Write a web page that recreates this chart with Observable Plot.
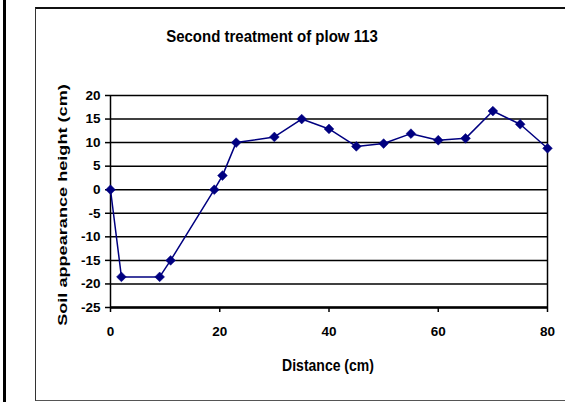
<!DOCTYPE html>
<html><head><meta charset="utf-8">
<script src="https://cdn.jsdelivr.net/npm/d3@7"></script>
<script src="https://cdn.jsdelivr.net/npm/@observablehq/plot@0.6"></script>
<style>
body{margin:0;background:#fff;}
#wrap{position:relative;width:565px;height:402px;overflow:hidden;font-family:"Liberation Sans",Arial,sans-serif;font-weight:bold;color:#000;background:#fff;}
#outer{position:absolute;left:3px;top:0;width:3px;height:402px;background:#000;}
#inner{position:absolute;left:35px;top:7px;width:600px;height:391px;border-left:1.5px solid #333;border-top:2px solid #111;border-bottom:1.5px solid #555;}
#chart{position:absolute;left:0;top:0;}
#chart svg text{font-size:13.5px !important;font-weight:bold;}
.t{position:absolute;white-space:nowrap;line-height:1;}
#title{left:272px;top:28px;font-size:15px;transform:translateX(-50%) scaleY(1.15);}
#xtitle{left:328px;top:358px;font-size:14px;transform:translateX(-50%) scaleY(1.15);}
#ytitle{left:63px;top:205px;font-size:12.5px;transform:translate(-50%,-50%) rotate(-90deg) scaleX(1.45);}
</style>
</head><body>
<div id="wrap">
  <div id="outer"></div>
  <div id="inner"></div>
  <div id="chart"></div>
  <div class="t" id="title"></div>
  <div class="t" id="xtitle"></div>
  <div class="t" id="ytitle"></div>
</div>
<script>
const titleText = "Second treatment of plow 113";
const xLabel = "Distance (cm)";
const yLabel = "Soil appearance height (cm)";
const distance = [0, 2, 9, 11, 19, 20.5, 23, 30, 35, 40, 45, 50, 55, 60, 65, 70, 75, 80];
const height = [0, -18.5, -18.5, -15, 0, 3, 10, 11.2, 15, 12.9, 9.2, 9.8, 11.9, 10.5, 10.9, 16.7, 13.9, 8.8];
const xTicks = [0, 20, 40, 60, 80];
const yTicks = [20, 15, 10, 5, 0, -5, -10, -15, -20, -25];

const data = distance.map((d, i) => ({x: d, y: height[i]}));

document.getElementById("title").textContent = titleText;
document.getElementById("xtitle").textContent = xLabel;
document.getElementById("ytitle").textContent = yLabel;

const chart = Plot.plot({
  width: 565,
  height: 402,
  marginLeft: 110,
  marginRight: 18,
  marginTop: 95,
  marginBottom: 95,
  style: {background: "transparent", fontFamily: "'Liberation Sans', Arial, sans-serif", fontWeight: "bold", fontSize: "13.5px", color: "#000"},
  x: {domain: [0, 80]},
  y: {domain: [-25, 20]},
  marks: [
    Plot.ruleY(yTicks, {stroke: "#000", strokeWidth: 1.5}),
    Plot.ruleY([-25], {stroke: "#000", strokeWidth: 2.5}),
    Plot.ruleX([0], {stroke: "#000", strokeWidth: 1.5}),
    Plot.ruleX([80], {stroke: "#000", strokeWidth: 1.5}),
    Plot.axisY({ticks: yTicks, tickSize: 5, tickPadding: 5, tickFormat: d => String(d), label: null, strokeWidth: 1.5, fontSize: 13.5}),
    Plot.axisX({ticks: xTicks, tickSize: 5, tickPadding: 14, tickFormat: d => String(d), label: null, strokeWidth: 1.5, fontSize: 13.5}),
    Plot.line(data, {x: "x", y: "y", stroke: "#000080", strokeWidth: 1.5}),
    Plot.dot(data, {x: "x", y: "y", symbol: "diamond2", r: 4.4, fill: "#000080", stroke: "#000080", strokeWidth: 0.5})
  ]
});
document.getElementById("chart").appendChild(chart);
</script>
</body></html>
